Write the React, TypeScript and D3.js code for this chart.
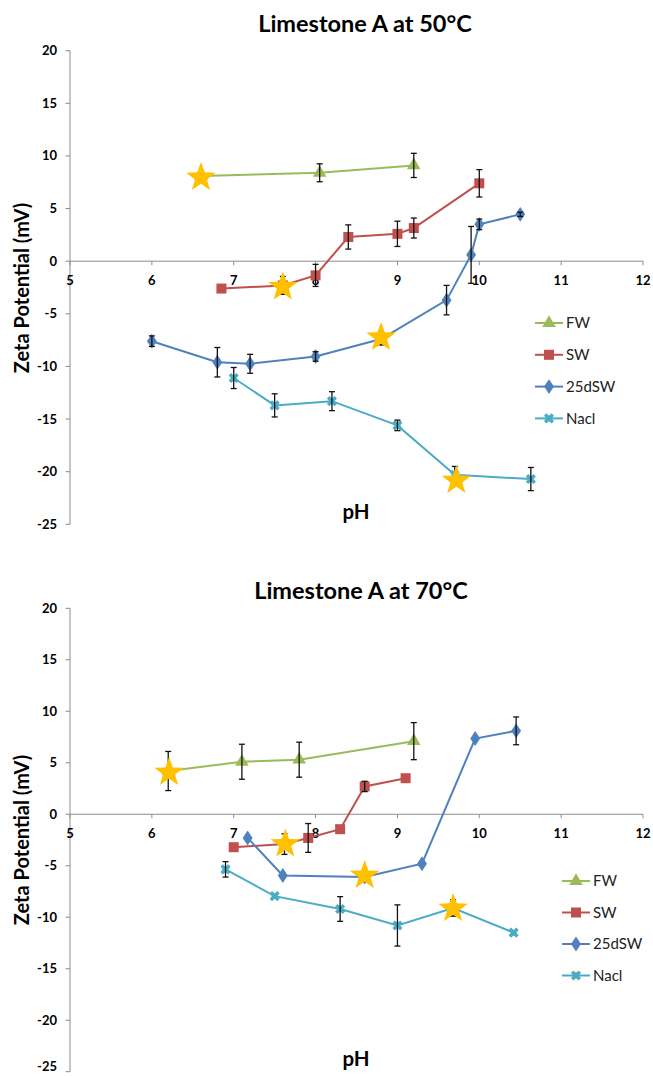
import React from "react";
import * as d3 from "d3";

// ---------- DATA ----------
const seriesNames = ["FW", "SW", "25dSW", "Nacl"];
const seriesColors = ["#9BBB59", "#C0504D", "#4F81BD", "#4BACC6"];
const xTicks = [5, 6, 7, 8, 9, 10, 11, 12];
const yTicks = [20, 15, 10, 5, 0, -5, -10, -15, -20, -25];

// Limestone A at 50°C
const fw50_pH = [6.6, 8.05, 9.2];
const fw50_zeta = [8.1, 8.4, 9.1];
const fw50_err = [0, 0.85, 1.15];
const sw50_pH = [6.85, 7.6, 8.0, 8.4, 9.0, 9.2, 10.0];
const sw50_zeta = [-2.6, -2.3, -1.35, 2.3, 2.6, 3.15, 7.4];
const sw50_err = [0, 0.85, 1.05, 1.15, 1.2, 0.95, 1.3];
const d25_50_pH = [6.0, 6.8, 7.2, 8.0, 8.8, 9.6, 9.9, 10.0, 10.5];
const d25_50_zeta = [-7.6, -9.6, -9.75, -9.05, -7.4, -3.7, 0.6, 3.5, 4.45];
const d25_50_err = [0.5, 1.4, 0.9, 0.45, 0.55, 1.4, 2.7, 0.5, 0.2];
const nacl50_pH = [7.0, 7.5, 8.2, 9.0, 9.7, 10.63];
const nacl50_zeta = [-11.1, -13.7, -13.3, -15.6, -20.3, -20.7];
const nacl50_err = [1.0, 1.1, 0.9, 0.5, 0.8, 1.1];
const star50_pH = [6.6, 7.6, 8.8, 9.72];
const star50_zeta = [8.1, -2.3, -7.1, -20.7];

// Limestone A at 70°C
const fw70_pH = [6.2, 7.1, 7.8, 9.2];
const fw70_zeta = [4.2, 5.1, 5.3, 7.1];
const fw70_err = [1.9, 1.7, 1.7, 1.8];
const sw70_pH = [7.0, 7.62, 7.91, 8.3, 8.6, 9.1];
const sw70_zeta = [-3.2, -2.9, -2.3, -1.45, 2.7, 3.5];
const sw70_err = [0, 1.0, 1.4, 0, 0.5, 0];
const d25_70_pH = [7.17, 7.6, 8.6, 9.3, 9.95, 10.45];
const d25_70_zeta = [-2.3, -5.95, -6.1, -4.8, 7.35, 8.1];
const d25_70_err = [0, 0, 0, 0, 0, 1.35];
const nacl70_pH = [6.9, 7.5, 8.3, 9.0, 9.68, 10.42];
const nacl70_zeta = [-5.35, -7.95, -9.2, -10.8, -9.1, -11.5];
const nacl70_err = [0.75, 0, 1.2, 2.0, 0.8, 0];
const star70_pH = [6.21, 7.63, 8.6, 9.68];
const star70_zeta = [4.2, -2.75, -5.8, -9.0];

type Series = { pH: number[]; zeta: number[]; err: number[] };

const charts = [
  {
    title: "Limestone A at 50°C",
    series: [
      { pH: fw50_pH, zeta: fw50_zeta, err: fw50_err },
      { pH: sw50_pH, zeta: sw50_zeta, err: sw50_err },
      { pH: d25_50_pH, zeta: d25_50_zeta, err: d25_50_err },
      { pH: nacl50_pH, zeta: nacl50_zeta, err: nacl50_err },
    ] as Series[],
    starPH: star50_pH,
    starZeta: star50_zeta,
    layout: { yTop: 50.7, yBot: 524.3, titleX: 365, titleY: 31.5, ylabY: 288, phY: 519, legX: 535, legY: 323, legStep: 31.8 },
  },
  {
    title: "Limestone A at 70°C",
    series: [
      { pH: fw70_pH, zeta: fw70_zeta, err: fw70_err },
      { pH: sw70_pH, zeta: sw70_zeta, err: sw70_err },
      { pH: d25_70_pH, zeta: d25_70_zeta, err: d25_70_err },
      { pH: nacl70_pH, zeta: nacl70_zeta, err: nacl70_err },
    ] as Series[],
    starPH: star70_pH,
    starZeta: star70_zeta,
    layout: { yTop: 608.3, yBot: 1071.7, titleX: 361, titleY: 598.5, ylabY: 840, phY: 1066, legX: 562, legY: 881, legStep: 31.5 },
  },
];

const FONT = "Lato, 'Open Sans', sans-serif";
const AXIS = "#8c8c8c";

function Marker({ i, x, y }: { i: number; x: number; y: number }) {
  const c = seriesColors[i];
  if (i === 0) {
    const p = d3.symbol(d3.symbolTriangle, 80)();
    return <path d={p || ""} transform={`translate(${x},${y})`} fill={c} />;
  }
  if (i === 1) {
    return <rect x={x - 5} y={y - 5} width={10} height={10} fill={c} />;
  }
  if (i === 2) {
    const p = d3.symbol(d3.symbolDiamond, 64)();
    return <path d={p || ""} transform={`translate(${x},${y}) scale(1.15,1)`} fill={c} />;
  }
  const p = d3.symbol(d3.symbolX, 40)();
  return (
    <g transform={`translate(${x},${y})`}>
      <path d={p || ""} stroke={c} strokeWidth={3.5} fill="none" />
      <circle r={3} fill={c} />
    </g>
  );
}

function Star({ x, y }: { x: number; y: number }) {
  const outer = 15.5;
  const inner = 6.3;
  const pts: [number, number][] = [];
  for (let k = 0; k < 10; k++) {
    const r = k % 2 === 0 ? outer : inner;
    const a = -Math.PI / 2 + (k * Math.PI) / 5;
    pts.push([x + r * Math.cos(a), y + 1.5 + r * Math.sin(a)]);
  }
  const d = d3.line()(pts) + "Z";
  return <path d={d} fill="#FFC000" />;
}

function Chart({ chart }: { chart: (typeof charts)[number] }) {
  const L = chart.layout;
  const x = d3.scaleLinear().domain([5, 12]).range([70, 643]);
  const y = d3.scaleLinear().domain([20, -25]).range([L.yTop, L.yBot]);
  const line = d3
    .line<[number, number]>()
    .x((d) => x(d[0]))
    .y((d) => y(d[1]));
  const y0 = y(0);
  return (
    <g>
      <text x={L.titleX} y={L.titleY} textAnchor="middle" fontFamily={FONT} fontWeight={700} fontSize={23.5} fill="#000">
        {chart.title}
      </text>
      {/* y axis */}
      <line x1={70} x2={70} y1={y(20)} y2={y(-25)} stroke={AXIS} strokeWidth={1} />
      {yTicks.map((t) => (
        <g key={"y" + t}>
          <line x1={65.5} x2={70} y1={y(t)} y2={y(t)} stroke={AXIS} />
          <text
            x={57}
            y={Math.min(y(t), 1066)}
            dy="0.35em"
            textAnchor="end"
            fontFamily={FONT}
            fontWeight={700}
            fontSize={13}
            fill="#000"
          >
            {t}
          </text>
        </g>
      ))}
      {/* x axis at 0 */}
      <line x1={x(5)} x2={x(12)} y1={y0} y2={y0} stroke={AXIS} strokeWidth={1} />
      {xTicks.map((t) => (
        <g key={"x" + t}>
          <line x1={x(t)} x2={x(t)} y1={y0} y2={y0 + 4} stroke={AXIS} />
          <text x={x(t)} y={y0 + 23.5} textAnchor="middle" fontFamily={FONT} fontWeight={700} fontSize={13} fill="#000">
            {t}
          </text>
        </g>
      ))}
      {/* axis titles */}
      <text
        transform={`translate(29,${L.ylabY}) rotate(-90)`}
        textAnchor="middle"
        fontFamily={FONT}
        fontWeight={700}
        fontSize={20}
        fill="#000"
      >
        Zeta Potential (mV)
      </text>
      <text x={356} y={L.phY} textAnchor="middle" fontFamily={FONT} fontWeight={700} fontSize={20.5} fill="#000">
        pH
      </text>
      {/* series */}
      {chart.series.map((s, i) => {
        const pts = s.pH.map((p, k) => [p, s.zeta[k]] as [number, number]);
        return (
          <g key={"s" + i}>
            <path d={line(pts) || ""} fill="none" stroke={seriesColors[i]} strokeWidth={2} />
            {pts.map((p, k) => (
              <Marker key={k} i={i} x={x(p[0])} y={y(p[1])} />
            ))}
          </g>
        );
      })}
      {/* error bars */}
      {chart.series.map((s, i) => (
        <g key={"e" + i}>
          {s.pH.map((p, k) =>
            s.err[k] > 0 ? (
              <g key={k} stroke="#111" strokeWidth={1.3}>
                <line x1={x(p)} x2={x(p)} y1={y(s.zeta[k] + s.err[k])} y2={y(s.zeta[k] - s.err[k])} />
                <line x1={x(p) - 3} x2={x(p) + 3} y1={y(s.zeta[k] + s.err[k])} y2={y(s.zeta[k] + s.err[k])} />
                <line x1={x(p) - 3} x2={x(p) + 3} y1={y(s.zeta[k] - s.err[k])} y2={y(s.zeta[k] - s.err[k])} />
              </g>
            ) : null
          )}
        </g>
      ))}
      {/* stars */}
      {chart.starPH.map((p, k) => (
        <Star key={"st" + k} x={x(p)} y={y(chart.starZeta[k])} />
      ))}
      {/* legend */}
      {seriesNames.map((n, i) => {
        const ly = L.legY + i * L.legStep;
        return (
          <g key={"l" + i}>
            <line x1={L.legX} x2={L.legX + 28} y1={ly} y2={ly} stroke={seriesColors[i]} strokeWidth={2} />
            <Marker i={i} x={L.legX + 14} y={ly} />
            <text x={L.legX + 31} y={ly} dy="0.36em" fontFamily={FONT} fontSize={15} fill="#222">
              {n}
            </text>
          </g>
        );
      })}
    </g>
  );
}

export default function App() {
  return (
    <svg
      width={653}
      height={1076}
      viewBox="0 0 653 1076"
      style={{ position: "absolute", left: 0, top: 0, background: "#fff" }}
    >
      <rect width={653} height={1076} fill="#fff" />
      {charts.map((c, i) => (
        <Chart key={i} chart={c} />
      ))}
    </svg>
  );
}
